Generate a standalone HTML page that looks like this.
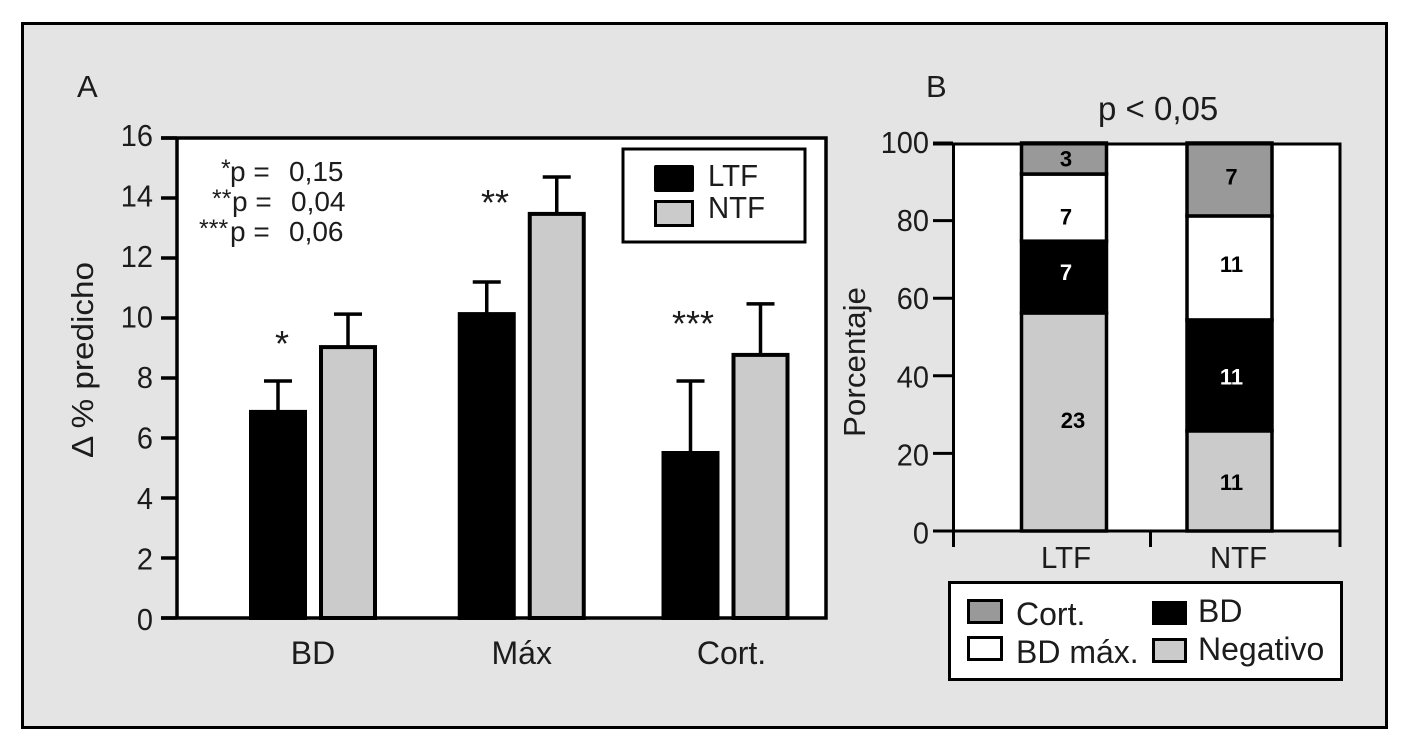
<!DOCTYPE html>
<html lang="es">
<head>
<meta charset="utf-8">
<title>Chart</title>
<style>
html,body{margin:0;padding:0;width:1416px;height:741px;background:#fff;overflow:hidden}
svg{display:block}
text{font-family:"Liberation Sans",sans-serif;fill:#1c1c1c}
.t{font-size:32px}
.d{font-size:31px}
.p{font-size:28px}
.b{font-size:22px;font-weight:bold;text-anchor:middle;fill:#000}
</style>
</head>
<body>
<svg id="fig" xmlns="http://www.w3.org/2000/svg" width="1416" height="741" viewBox="0 0 1416 741">
  <rect x="22.5" y="23.5" width="1364" height="704" fill="#e4e4e4" stroke="#000" stroke-width="3"/>

  <text class="d" x="77" y="97">A</text>
  <text class="d" x="926" y="97">B</text>
  <text class="t" font-size="33" x="1098" y="120" style="font-size:33px">p &lt; 0,05</text>

  <rect x="177" y="138" width="649" height="480" fill="#fff"/>
  <rect x="953" y="143" width="387" height="388" fill="#fff"/>
  <g id="a"></g>
  <g id="b"></g>

  <g>
    <text class="p"><tspan x="221" y="177" style="font-size:25px">*</tspan><tspan x="230" y="181">p =</tspan><tspan x="289" y="181">0,15</tspan></text>
    <text class="p"><tspan x="212" y="207" style="font-size:25px">**</tspan><tspan x="232" y="211">p =</tspan><tspan x="291" y="211">0,04</tspan></text>
    <text class="p"><tspan x="199" y="237" style="font-size:25px">***</tspan><tspan x="230" y="241">p =</tspan><tspan x="289" y="241">0,06</tspan></text>
  </g>
  <text font-size="36" text-anchor="middle" x="282" y="356">*</text>
  <text font-size="36" text-anchor="middle" x="495" y="215">**</text>
  <text font-size="36" text-anchor="middle" x="693" y="336">***</text>

  <text class="d" text-anchor="middle" textLength="196" lengthAdjust="spacingAndGlyphs" transform="translate(93 360) rotate(-90)">Δ % predicho</text>
  <text class="d" text-anchor="middle" textLength="150" lengthAdjust="spacingAndGlyphs" transform="translate(865 362) rotate(-90)">Porcentaje</text>

  <g>
    <rect x="623" y="149" width="182" height="93" fill="#fff" stroke="#000" stroke-width="3"/>
    <rect x="654" y="165" width="40" height="27" rx="2" fill="#000"/>
    <rect x="655.5" y="201.5" width="37" height="24" fill="#cbcbcb" stroke="#000" stroke-width="3"/>
    <text class="d" x="708" y="186" textLength="50" lengthAdjust="spacingAndGlyphs">LTF</text>
    <text class="d" x="708" y="218" textLength="57" lengthAdjust="spacingAndGlyphs">NTF</text>
  </g>

  <g>
    <rect x="949.5" y="582.5" width="392" height="97" fill="#fff" stroke="#000" stroke-width="3"/>
    <rect x="968.5" y="600.5" width="33" height="22" fill="#999" stroke="#000" stroke-width="3"/>
    <rect x="968.5" y="637.5" width="33" height="22" fill="#fff" stroke="#000" stroke-width="3"/>
    <rect x="1152" y="601" width="35" height="24" fill="#000"/>
    <rect x="1153.5" y="639.5" width="32" height="22" fill="#cbcbcb" stroke="#000" stroke-width="3"/>
    <text class="t" x="1016" y="625">Cort.</text>
    <text class="t" x="1016" y="663">BD máx.</text>
    <text class="t" x="1198" y="622">BD</text>
    <text class="t" x="1198" y="660">Negativo</text>
  </g>
</svg>
<script>
const categoriesA = ['BD', 'Máx', 'Cort.'];
const ltfValues = [6.87, 10.13, 5.5];
const ntfValues = [9.03, 13.47, 8.77];
const ltfErrorTops = [7.9, 11.2, 7.9];
const ntfErrorTops = [10.13, 14.7, 10.47];
const yTicksA = [0, 2, 4, 6, 8, 10, 12, 14, 16];

const categoriesB = ['LTF', 'NTF'];
const negativoPct = [56.2, 25.8];
const bdPct = [18.5, 28.6];
const bdMaxPct = [17.3, 26.8];
const cortPct = [8.0, 18.8];
const negativoCounts = ['23', '11'];
const bdCounts = ['7', '11'];
const bdMaxCounts = ['7', '11'];
const cortCounts = ['3', '7'];
const yTicksB = [0, 20, 40, 60, 80, 100];

const NS = 'http://www.w3.org/2000/svg';
function add(parent, tag, attrs, txt) {
  const el = document.createElementNS(NS, tag);
  for (const k in attrs) el.setAttribute(k, attrs[k]);
  if (txt !== undefined) el.textContent = txt;
  parent.appendChild(el);
  return el;
}
const yA = v => 618 - v * 30;
const groupX = i => 313 + i * 206.25 + (i === 1 ? 2.5 : 0);
const yB = v => 531 - v * 3.88;
const bandB = i => 1064 + i * 165.5;

const gA = document.getElementById('a');
function drawBar(cx, value, errTop, fill, name) {
  const r = add(gA, 'rect', {x: cx - 27, y: yA(value), width: 54, height: 618 - yA(value), fill: fill, stroke: '#000', 'stroke-width': 4});
  
  
  const s = add(gA, 'line', {x1: cx, x2: cx, y1: yA(value), y2: yA(errTop), stroke: '#000', 'stroke-width': 3.5});
  
  
  const c = add(gA, 'line', {x1: cx - 14, x2: cx + 14, y1: yA(errTop), y2: yA(errTop), stroke: '#000', 'stroke-width': 3.5});
  
  
}
categoriesA.forEach((cat, i) => {
  drawBar(groupX(i) - 35, ltfValues[i], ltfErrorTops[i], '#000', 'ltf-' + i);
  drawBar(groupX(i) + 35, ntfValues[i], ntfErrorTops[i], '#cbcbcb', 'ntf-' + i);
  const t = add(gA, 'text', {class: 't', x: groupX(i) + (i === 2 ? 6 : 0), y: 664, 'text-anchor': 'middle'}, cat);
  
  
});
const frameA = add(gA, 'path', {d: 'M161 138H826V618H161M177 138V618', fill: 'none', stroke: '#000', 'stroke-width': 3.5});


yTicksA.forEach(v => {
  const l = add(gA, 'line', {x1: 161, x2: 177, y1: yA(v), y2: yA(v), stroke: '#000', 'stroke-width': 3.5});
  
  
  const label = String(v);
  const t = add(gA, 'text', {class: 'd', x: 153, y: yA(v) + 12 - v / 4, 'text-anchor': 'end', textLength: label.length * 16.1, lengthAdjust: 'spacingAndGlyphs'}, label);
  
  
});

const gB = document.getElementById('b');
const stackOrder = [
  {name: 'negativo', pct: negativoPct, counts: negativoCounts, fill: '#cbcbcb', ink: '#000'},
  {name: 'bd', pct: bdPct, counts: bdCounts, fill: '#000', ink: '#fff'},
  {name: 'bd-max', pct: bdMaxPct, counts: bdMaxCounts, fill: '#fff', ink: '#000'},
  {name: 'cort', pct: cortPct, counts: cortCounts, fill: '#999', ink: '#000'}
];
const labelNudge = {
  'negativo-0': [9, 6], 'bd-0': [2, 3], 'bd-max-0': [2, 17], 'cort-0': [2, 8],
  'negativo-1': [2, 9], 'bd-1': [2, 9], 'bd-max-1': [2, 4], 'cort-1': [2, 5]
};
categoriesB.forEach((cat, i) => {
  let base = 0;
  stackOrder.forEach(seg => {
    const v = seg.pct[i];
    const top = yB(base + v), bottom = yB(base);
    const r = add(gB, 'rect', {x: bandB(i) - 42.5, y: top, width: 85, height: bottom - top, fill: seg.fill, stroke: '#000', 'stroke-width': 3.5});
    
    
    const n = labelNudge[seg.name + '-' + i];
    const t = add(gB, 'text', {class: 'b', x: bandB(i) + n[0], y: (top + bottom) / 2 + n[1], style: 'fill:' + seg.ink}, seg.counts[i]);
    
    
    base += v;
  });
  const c = add(gB, 'text', {class: 'd', x: bandB(i) + (i === 1 ? 9 : 2), y: 568, 'text-anchor': 'middle', textLength: i === 1 ? 57 : 50, lengthAdjust: 'spacingAndGlyphs'}, cat);
  
  
});
const frameB = add(gB, 'path', {d: 'M933 144H1340V531H933M953.500 144V547M1150.500 531V547M1340 144V547', fill: 'none', stroke: '#000', 'stroke-width': 3});


yTicksB.forEach(v => {
  const l = add(gB, 'line', {x1: 933, x2: 953, y1: yB(v), y2: yB(v), stroke: '#000', 'stroke-width': 3});
  
  
  const label = String(v);
  const t = add(gB, 'text', {class: 'd', x: 929, y: yB(v) + 12.5 - v / 40, 'text-anchor': 'end', textLength: label.length * 16.1, lengthAdjust: 'spacingAndGlyphs'}, label);
  
  
});
</script>
</body>
</html>
